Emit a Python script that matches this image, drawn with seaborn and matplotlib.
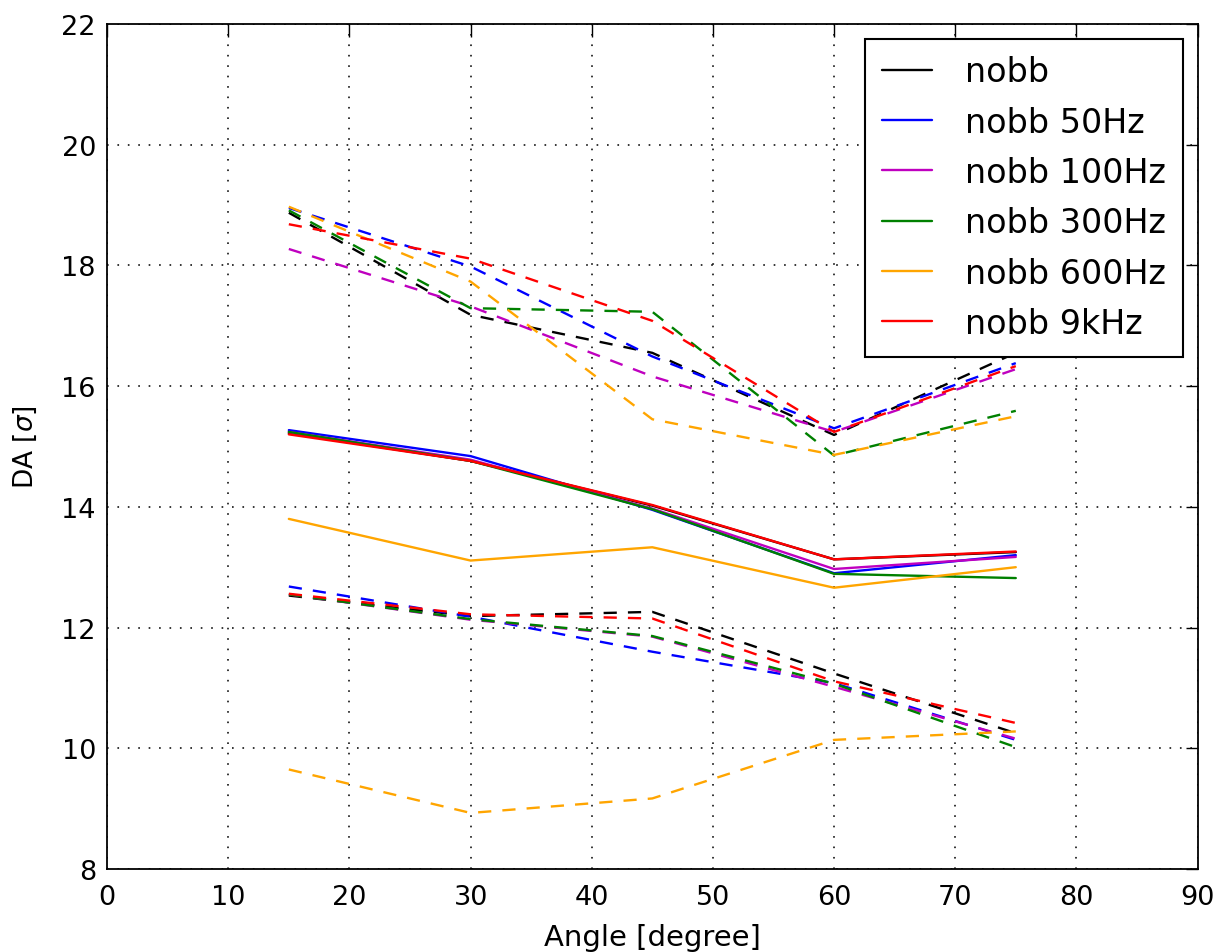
import matplotlib
matplotlib.use("Agg")
import matplotlib.pyplot as plt
import seaborn as sns
import pandas as pd

angles = [15, 30, 45, 60, 75]
labels = ["nobb", "nobb 50Hz", "nobb 100Hz", "nobb 300Hz", "nobb 600Hz", "nobb 9kHz"]
colors = ["black", "#0000ff", "#bf00bf", "#008000", "#ffa500", "#ff0000"]

# middle (solid) curves
mid_nobb = [15.22, 14.76, 14.02, 13.13, 13.25]
mid_50 = [15.27, 14.84, 13.95, 12.90, 13.20]
mid_100 = [15.24, 14.78, 13.97, 12.97, 13.17]
mid_300 = [15.24, 14.76, 13.96, 12.89, 12.82]
mid_600 = [13.80, 13.11, 13.33, 12.66, 13.00]
mid_9k = [15.20, 14.76, 14.03, 13.13, 13.26]

# upper (dashed) curves
up_nobb = [18.87, 17.18, 16.55, 15.19, 16.55]
up_50 = [18.95, 17.98, 16.49, 15.30, 16.38]
up_100 = [18.27, 17.32, 16.16, 15.24, 16.28]
up_300 = [18.91, 17.29, 17.23, 14.85, 15.59]
up_600 = [18.97, 17.73, 15.45, 14.86, 15.50]
up_9k = [18.68, 18.11, 17.08, 15.24, 16.33]

# lower (dashed) curves
lo_nobb = [12.53, 12.19, 12.26, 11.24, 10.25]
lo_50 = [12.68, 12.18, 11.60, 11.08, 10.14]
lo_100 = [12.55, 12.13, 11.85, 11.02, 10.16]
lo_300 = [12.55, 12.14, 11.86, 11.07, 10.02]
lo_600 = [9.65, 8.93, 9.17, 10.14, 10.28]
lo_9k = [12.56, 12.22, 12.15, 11.11, 10.42]

mids = [mid_nobb, mid_50, mid_100, mid_300, mid_600, mid_9k]
ups = [up_nobb, up_50, up_100, up_300, up_600, up_9k]
los = [lo_nobb, lo_50, lo_100, lo_300, lo_600, lo_9k]

sns.set_style("white")
plt.rcParams["font.family"] = ["DejaVu Sans"]
plt.rcParams["mathtext.fontset"] = "dejavusans"
plt.rcParams["lines.scale_dashes"] = False
plt.rcParams["xtick.direction"] = "in"
plt.rcParams["ytick.direction"] = "in"
plt.rcParams["text.color"] = "black"
plt.rcParams["axes.labelcolor"] = "black"
plt.rcParams["xtick.color"] = "black"
plt.rcParams["ytick.color"] = "black"
plt.rcParams["xtick.labelcolor"] = "black"
plt.rcParams["ytick.labelcolor"] = "black"

fig = plt.figure(figsize=(12.17, 9.53), dpi=100)
ax = fig.add_axes([0.088, 0.087, 0.896, 0.887])

dash = (0, (9.5, 8))
handles = []
for lab, c, m, u, l in zip(labels, colors, mids, ups, los):
    df_m = pd.DataFrame({"angle": angles, "da": m})
    df_u = pd.DataFrame({"angle": angles, "da": u})
    df_l = pd.DataFrame({"angle": angles, "da": l})
    sns.lineplot(data=df_m, x="angle", y="da", color=c, linewidth=1.7, ax=ax,
                 errorbar=None, legend=False)
    handles.append(ax.get_lines()[-1])
    sns.lineplot(data=df_u, x="angle", y="da", color=c, linewidth=1.7, ax=ax,
                 errorbar=None, legend=False, linestyle=dash)
    sns.lineplot(data=df_l, x="angle", y="da", color=c, linewidth=1.7, ax=ax,
                 errorbar=None, legend=False, linestyle=dash)

ax.set_xlim(0, 90)
ax.set_ylim(8, 22)
ax.set_xticks(range(0, 91, 10))
ax.set_yticks(range(8, 23, 2))
ax.grid(True, color="black", linestyle=(0, (1.2, 6.3)), linewidth=1.1)
for s in ax.spines.values():
    s.set_color("black")
    s.set_linewidth(1.3)
ax.tick_params(axis="both", which="major", labelsize=19.5, length=9, width=1,
               top=True, right=True, color="black", labelcolor="black")
ax.tick_params(axis="x", pad=11)
ax.tick_params(axis="y", pad=8)
ax.set_xlabel("Angle [degree]", fontsize=21, labelpad=9, color="black")
ax.set_ylabel(r"DA $[\sigma]$", fontsize=19, labelpad=16, color="black")

for h, lab in zip(handles, labels):
    h.set_label(lab)
leg = ax.legend(handles=handles, labels=labels, loc="upper right", fontsize=24,
                frameon=True, fancybox=False, framealpha=1, edgecolor="black",
                handlelength=1.5, handletextpad=1.0, labelspacing=0.52,
                borderpad=0.5, borderaxespad=0.45, labelcolor="black")
leg.get_frame().set_linewidth(1.5)

fig.savefig("out.png", dpi=100)
